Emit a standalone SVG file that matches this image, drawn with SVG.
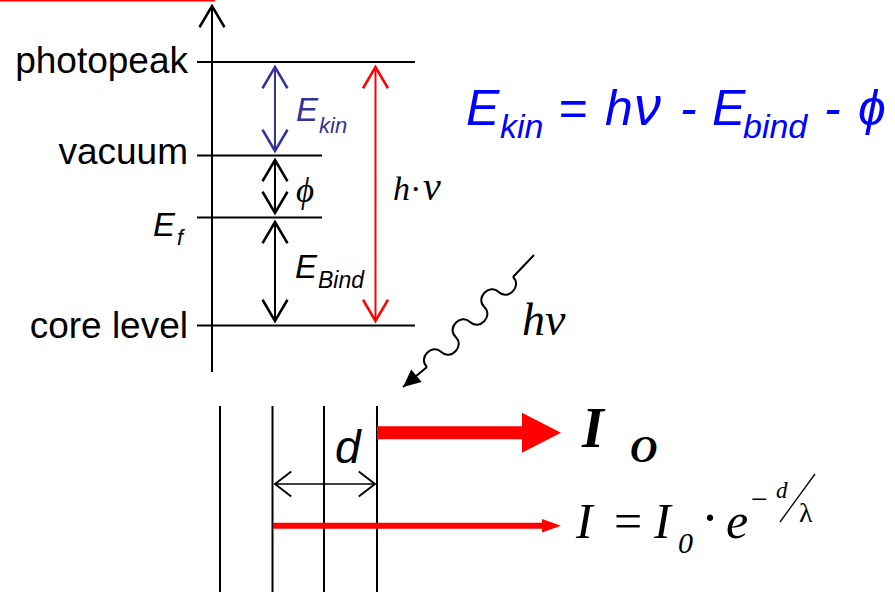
<svg xmlns="http://www.w3.org/2000/svg" width="895" height="592" viewBox="0 0 895 592">
<style>
.sans{font-family:"Liberation Sans",Arial,sans-serif}
.serif{font-family:"Liberation Serif","Times New Roman",serif}
.lbl{font-size:37px;fill:#000;text-anchor:end}
.lvl{stroke:#000;stroke-width:2;fill:none}
.blk{stroke:#000;stroke-width:2;fill:none}
.blue{stroke:#333399;stroke-width:2;fill:none}
.red{stroke:#ff0000;stroke-width:2;fill:none}
.it{font-style:italic}
</style>
<defs>
<marker id="chK" markerUnits="userSpaceOnUse" markerWidth="30" markerHeight="30" viewBox="-20 -12 24 24" refX="0" refY="0" orient="auto-start-reverse" overflow="visible"><path d="M-17,-10 L0,0 L-17,10" fill="none" stroke="#000" stroke-width="2"/></marker>
<marker id="chB" markerUnits="userSpaceOnUse" markerWidth="30" markerHeight="30" viewBox="-20 -12 24 24" refX="0" refY="0" orient="auto-start-reverse" overflow="visible"><path d="M-17,-10 L0,0 L-17,10" fill="none" stroke="#333399" stroke-width="2"/></marker>
<marker id="chR" markerUnits="userSpaceOnUse" markerWidth="30" markerHeight="30" viewBox="-20 -12 24 24" refX="0" refY="0" orient="auto-start-reverse" overflow="visible"><path d="M-17,-10 L0,0 L-17,10" fill="none" stroke="#ff0000" stroke-width="2"/></marker>
<marker id="chS" markerUnits="userSpaceOnUse" markerWidth="30" markerHeight="30" viewBox="-20 -12 24 24" refX="0" refY="0" orient="auto-start-reverse" overflow="visible"><path d="M-13,-10 L0,0 L-13,10" fill="none" stroke="#000" stroke-width="1.5"/></marker>
<marker id="tri" markerUnits="userSpaceOnUse" markerWidth="30" markerHeight="30" viewBox="-20 -12 24 24" refX="0" refY="0" orient="auto" overflow="visible"><path d="M-14,-6.5 L0,0 L-14,6.5 Z" fill="#000"/></marker>
</defs>
<rect width="895" height="592" fill="#fff"/>
<rect x="0" y="0" width="215" height="1.5" fill="#ff0000"/>

<g id="axis">
<line class="blk" x1="212" y1="372" x2="212" y2="6" marker-end="url(#chK)"/>
</g>

<g id="level-photopeak">
<line class="lvl" x1="197" y1="62" x2="415" y2="62"/>
<text class="sans lbl" x="188" y="73">photopeak</text>
</g>
<g id="level-vacuum">
<line class="lvl" x1="197" y1="155.5" x2="322" y2="155.5"/>
<text class="sans lbl" x="188" y="164">vacuum</text>
</g>
<g id="level-ef">
<line class="lvl" x1="197" y1="217.5" x2="322" y2="217.5"/>
<text class="sans it" font-size="33" x="153" y="236">E<tspan font-size="22" x="177" y="245">f</tspan></text>
</g>
<g id="level-core">
<line class="lvl" x1="197" y1="325.5" x2="415" y2="325.5"/>
<text class="sans lbl" x="188" y="338">core level</text>
</g>

<g id="connectors">
<line class="blue" x1="275" y1="67" x2="275" y2="151" marker-start="url(#chB)" marker-end="url(#chB)"/>
<line class="blk" x1="275" y1="160" x2="275" y2="213" marker-start="url(#chK)" marker-end="url(#chK)"/>
<line class="blk" x1="275" y1="222" x2="275" y2="321" marker-start="url(#chK)" marker-end="url(#chK)"/>
<line class="red" x1="375.5" y1="67" x2="375.5" y2="321" marker-start="url(#chR)" marker-end="url(#chR)"/>
<line x1="275" y1="484" x2="375" y2="484" stroke="#000" stroke-width="1.5" marker-start="url(#chS)" marker-end="url(#chS)"/>
</g>

<g id="label-ekin">
<text class="sans it" font-size="33" fill="#333399" x="296" y="121">E<tspan font-size="22" x="319" y="133">kin</tspan></text>
</g>
<g id="label-phi">
<text class="serif it" font-size="35" x="296" y="202">ϕ</text>
</g>
<g id="label-ebind">
<text class="sans it" font-size="33" x="295" y="278">E<tspan font-size="23" x="318" y="288">Bind</tspan></text>
</g>
<g id="label-hnu">
<text class="serif it" font-size="34" y="200"><tspan x="393">h</tspan><tspan x="411">·</tspan><tspan x="423" font-size="40">ν</tspan></text>
</g>

<g id="formula-ekin" class="sans it" fill="#0000ff">
<text font-size="50" y="125"><tspan x="466">E</tspan><tspan x="558">=</tspan><tspan x="605">h</tspan><tspan x="634" font-size="54">ν</tspan><tspan x="680">-</tspan><tspan x="712">E</tspan><tspan x="824">-</tspan><tspan x="858">ϕ</tspan></text>
<text font-size="34" y="138"><tspan x="500">kin</tspan><tspan x="743">bind</tspan></text>
</g>

<g id="photon">
<line class="blk" x1="534" y1="255" x2="513" y2="277"/>
<path class="blk" transform="translate(513,277) rotate(133.7)" d="M0,0 c0,-13 20.75,-13 20.75,0 c0,13 20.75,13 20.75,0 c0,-13 20.75,-13 20.75,0 c0,13 20.75,13 20.75,0 c0,-13 20.75,-13 20.75,0 c0,13 20.75,13 20.75,0"/>
<line class="blk" x1="427" y1="367" x2="403" y2="387" marker-end="url(#tri)"/>
<text class="serif it" font-size="46" x="522" y="335">hν</text>
</g>

<g id="layers">
<line class="blk" x1="220" y1="406" x2="220" y2="592"/>
<line class="blk" x1="272.5" y1="406" x2="272.5" y2="592"/>
<line class="blk" x1="324" y1="406" x2="324" y2="592"/>
<line class="blk" x1="377" y1="406" x2="377" y2="592"/>
<text class="sans it" font-size="46" x="335" y="463">d</text>
</g>

<g id="beam-io">
<path d="M377,426.2 H522 V412.7 L561,432.7 L522,452.7 V439.2 H377 Z" fill="#ff0000"/>
<text class="serif it" font-weight="bold" font-size="56" x="582" y="447">I</text>
<text class="serif it" font-weight="bold" font-size="38" x="630" y="462">O</text>
</g>

<g id="beam-i">
<path d="M273,522.7 H542 V519 L561,525.7 L542,532.4 V528.7 H273 Z" fill="#ff0000"/>
<g class="serif">
<text class="it" font-size="50" x="576" y="538">I</text>
<text font-size="50" x="614" y="538">=</text>
<text class="it" font-size="50" x="654" y="538">I</text>
<text class="it" font-size="30" x="678" y="553">0</text>
<text font-size="54" x="701" y="536">·</text>
<text class="it" font-size="50" x="726" y="538">e</text>
<text font-size="30" x="751" y="509">−</text>
<text class="it" font-size="23" x="776" y="498">d</text>
<line x1="780" y1="522" x2="815" y2="474" stroke="#000" stroke-width="1.3"/>
<text font-size="28" x="799" y="522">λ</text>
</g>
</g>
</svg>
